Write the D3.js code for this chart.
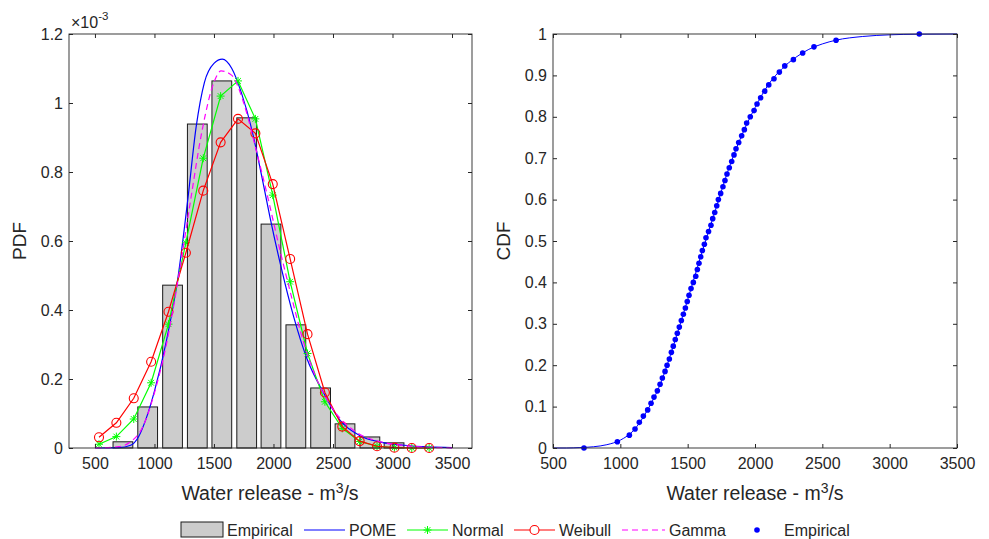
<!DOCTYPE html>
<html lang="en">
<head>
<meta charset="UTF-8">
<title>Water release PDF / CDF</title>
<script src="https://d3js.org/d3.v7.min.js"></script>
<style>
    body { margin: 0; background: #fff; }
    svg { display: block; font-family: "Liberation Sans", Arial, sans-serif; }
    .tick text { fill: #262626; font-size: 16px; }
    .tick line { stroke: #262626; }
</style>
</head>
<body>
<div id="chart"></div>
<script>
// histogram of the observed releases (bar centre, density in 1e-3)
const barX = [735, 943, 1152, 1360, 1566, 1775, 1979, 2188, 2396, 2601, 2810, 3013];
const barY = [0.018, 0.119, 0.472, 0.939, 1.064, 0.957, 0.649, 0.357, 0.174, 0.070, 0.032, 0.015];

// Normal and Weibull evaluated at 20 points
const fitX = [534, 680, 826, 972, 1118, 1264, 1410, 1556, 1702, 1848, 1994, 2140, 2286, 2432, 2578, 2724, 2870, 3016, 3162, 3308];
const normalY = [0.011, 0.033, 0.084, 0.189, 0.359, 0.595, 0.840, 1.020, 1.064, 0.954, 0.733, 0.482, 0.274, 0.134, 0.057, 0.019, 0.005, 0.001, 0.0, 0.0];
const weibullY = [0.031, 0.073, 0.144, 0.250, 0.395, 0.566, 0.746, 0.886, 0.954, 0.912, 0.765, 0.548, 0.330, 0.161, 0.062, 0.020, 0.005, 0.001, 0.0, 0.0];

// POME pdf
const pomeX = [500, 700, 800, 870, 930, 1000, 1100, 1200, 1280, 1350, 1420, 1500, 1570, 1650, 1730, 1820, 1900, 1970, 2060, 2170, 2280, 2420, 2560, 2730, 2900, 3100, 3300, 3500];
const pomeY = [0.0, 0.001, 0.008, 0.035, 0.085, 0.165, 0.31, 0.50, 0.72, 0.93, 1.06, 1.115, 1.127, 1.10, 1.03, 0.92, 0.79, 0.67, 0.53, 0.38, 0.26, 0.16, 0.08, 0.035, 0.017, 0.008, 0.003, 0.001];

// Gamma pdf
const gammaX = [500, 700, 800, 900, 1000, 1100, 1200, 1300, 1400, 1500, 1560, 1650, 1750, 1850, 1950, 2050, 2150, 2250, 2350, 2450, 2550, 2700, 2900, 3100, 3300, 3500];
const gammaY = [0.0, 0.004, 0.018, 0.06, 0.16, 0.30, 0.49, 0.71, 0.92, 1.06, 1.093, 1.08, 1.00, 0.87, 0.73, 0.58, 0.44, 0.31, 0.21, 0.14, 0.09, 0.045, 0.018, 0.007, 0.002, 0.0005];

// empirical cdf points
const cdfX = [730, 978, 1067, 1109, 1141, 1171, 1203, 1228, 1250, 1275,
              1295, 1312, 1332, 1347, 1364, 1379, 1393, 1408, 1423, 1438,
              1453, 1468, 1483, 1497, 1510, 1525, 1542, 1560, 1572, 1584,
              1597, 1609, 1624, 1636, 1655, 1673, 1686, 1701, 1716, 1728,
              1745, 1762, 1777, 1792, 1809, 1827, 1844, 1859, 1879, 1901,
              1921, 1938, 1965, 1993, 2015, 2042, 2072, 2102, 2141, 2181,
              2221, 2285, 2354, 2438, 2602, 3220];
const cdfY = [0.000, 0.015, 0.031, 0.046, 0.062, 0.077, 0.092, 0.108, 0.123, 0.138,
              0.154, 0.169, 0.185, 0.200, 0.215, 0.231, 0.246, 0.262, 0.277, 0.292,
              0.308, 0.323, 0.338, 0.354, 0.369, 0.385, 0.400, 0.415, 0.431, 0.446,
              0.462, 0.477, 0.492, 0.508, 0.523, 0.538, 0.554, 0.569, 0.585, 0.600,
              0.615, 0.631, 0.646, 0.662, 0.677, 0.692, 0.708, 0.723, 0.738, 0.754,
              0.769, 0.785, 0.800, 0.815, 0.831, 0.846, 0.862, 0.877, 0.892, 0.908,
              0.923, 0.938, 0.954, 0.969, 0.985, 1.000];

// fitted cdf line
const cdfFitX = [500, 600, 700, 800, 900, 1000, 1100, 1200, 1300, 1400, 1500, 1600, 1700, 1800, 1900, 2000, 2100, 2200, 2300, 2400, 2500, 2600, 2800, 3000, 3200, 3500];
const cdfFitY = [0.0, 0.0, 0.001, 0.003, 0.008, 0.019, 0.043, 0.091, 0.157, 0.253, 0.358, 0.466, 0.568, 0.670, 0.754, 0.822, 0.878, 0.916, 0.943, 0.963, 0.976, 0.985, 0.994, 0.998, 0.9995, 1.0];

const xTicks = [500, 1000, 1500, 2000, 2500, 3000, 3500];
const pdfTicks = [0, 0.2, 0.4, 0.6, 0.8, 1, 1.2];
const cdfTicks = [0, 0.1, 0.2, 0.3, 0.4, 0.5, 0.6, 0.7, 0.8, 0.9, 1];

const W = 989, H = 539;
const barWidth = 166;
const axisColor = "#262626";

const svg = d3.select("#chart").append("svg")
    .attr("width", W)
    .attr("height", H);

const xPdf = d3.scaleLinear().domain([282, 3668]).range([69, 472]);
const yPdf = d3.scaleLinear().domain([0, 1.2]).range([448, 34]);
const xCdf = d3.scaleLinear().domain([500, 3500]).range([553, 957]);
const yCdf = d3.scaleLinear().domain([0, 1]).range([448, 34]);

const fmt = d => String(+d.toFixed(2));

function drawAxes(x, y, yTicks) {
    const [x0, x1] = x.range();
    const [y0, y1] = y.range();
    const g = svg.append("g");
    g.append("g")
        .attr("transform", `translate(0,${y0})`)
        .call(d3.axisBottom(x).tickValues(xTicks).tickSizeInner(-4).tickSizeOuter(0).tickPadding(10).tickFormat(d3.format("d")));
    g.append("g")
        .attr("transform", `translate(0,${y1})`)
        .call(d3.axisTop(x).tickValues(xTicks).tickSizeInner(-4).tickSizeOuter(0).tickFormat(""));
    g.append("g")
        .attr("transform", `translate(${x0},0)`)
        .call(d3.axisLeft(y).tickValues(yTicks).tickSizeInner(-4).tickSizeOuter(0).tickPadding(6).tickFormat(fmt));
    g.append("g")
        .attr("transform", `translate(${x1},0)`)
        .call(d3.axisRight(y).tickValues(yTicks).tickSizeInner(-4).tickSizeOuter(0).tickFormat(""));
    g.selectAll(".domain").remove();
    g.append("rect")
        .attr("x", x0).attr("y", y1)
        .attr("width", x1 - x0).attr("height", y0 - y1)
        .attr("fill", "none")
        .attr("stroke", axisColor)
        .attr("stroke-width", 0.9);
}

function xLabel(cx) {
    const t = svg.append("text")
        .attr("x", cx).attr("y", 500)
        .attr("text-anchor", "middle")
        .attr("font-size", 19.5)
        .attr("fill", axisColor);
    t.append("tspan").text("Water release - m");
    t.append("tspan").attr("dy", -7).attr("font-size", 14).text("3");
    t.append("tspan").attr("dy", 7).text("/s");
}

function yLabel(cx, label) {
    svg.append("text")
        .attr("transform", `translate(${cx},241) rotate(-90)`)
        .attr("text-anchor", "middle")
        .attr("font-size", 19)
        .attr("fill", axisColor)
        .text(label);
}

function star(sel, color) {
    sel.append("path")
        .attr("d", "M-4,0H4M0,-4V4M-2.9,-2.9L2.9,2.9M-2.9,2.9L2.9,-2.9")
        .attr("stroke", color)
        .attr("stroke-width", 1)
        .attr("fill", "none");
}

// ---------------- left panel: PDF ----------------
const left = svg.append("g");

left.selectAll("rect.bar")
    .data(barX.map((x, i) => ({ x, y: barY[i] })))
    .join("rect")
    .attr("class", "bar")
    .attr("x", d => xPdf(d.x - barWidth / 2))
    .attr("width", d => xPdf(d.x + barWidth / 2) - xPdf(d.x - barWidth / 2))
    .attr("y", d => yPdf(d.y))
    .attr("height", d => yPdf(0) - yPdf(d.y))
    .attr("fill", "#cccccc")
    .attr("stroke", "#1a1a1a")
    .attr("stroke-width", 1);

const smooth = d3.line().curve(d3.curveMonotoneX);
const straight = d3.line();

left.append("path")
    .attr("d", smooth(pomeX.map((x, i) => [xPdf(x), yPdf(pomeY[i])])))
    .attr("fill", "none")
    .attr("stroke", "#0000ff")
    .attr("stroke-width", 1.2);

const normalPts = fitX.map((x, i) => [xPdf(x), yPdf(normalY[i])]);
left.append("path")
    .attr("d", straight(normalPts))
    .attr("fill", "none")
    .attr("stroke", "#00ff00")
    .attr("stroke-width", 1.2);
left.selectAll("g.nstar")
    .data(normalPts)
    .join("g")
    .attr("class", "nstar")
    .attr("transform", d => `translate(${d[0]},${d[1]})`)
    .call(star, "#00ff00");

const weibullPts = fitX.map((x, i) => [xPdf(x), yPdf(weibullY[i])]);
left.append("path")
    .attr("d", straight(weibullPts))
    .attr("fill", "none")
    .attr("stroke", "#ff0000")
    .attr("stroke-width", 1.2);
left.selectAll("circle.wb")
    .data(weibullPts)
    .join("circle")
    .attr("class", "wb")
    .attr("cx", d => d[0])
    .attr("cy", d => d[1])
    .attr("r", 4.5)
    .attr("fill", "none")
    .attr("stroke", "#ff0000")
    .attr("stroke-width", 1.1);

left.append("path")
    .attr("d", smooth(gammaX.map((x, i) => [xPdf(x), yPdf(gammaY[i])])))
    .attr("fill", "none")
    .attr("stroke", "#ff00ff")
    .attr("stroke-width", 1.2)
    .attr("stroke-dasharray", "6,4");

drawAxes(xPdf, yPdf, pdfTicks);
xLabel(270);
yLabel(26, "PDF");

// exponent marker
const ex = svg.append("text")
    .attr("x", 71).attr("y", 28)
    .attr("font-size", 16)
    .attr("fill", axisColor);
ex.append("tspan").text("\u00d710");
ex.append("tspan").attr("dy", -8).attr("font-size", 11.5).text("-3");

// ---------------- right panel: CDF ----------------
const right = svg.append("g");

right.append("path")
    .attr("d", smooth(cdfFitX.map((x, i) => [xCdf(x), yCdf(cdfFitY[i])])))
    .attr("fill", "none")
    .attr("stroke", "#0000ff")
    .attr("stroke-width", 1);

right.selectAll("circle.emp")
    .data(cdfX.map((x, i) => [xCdf(x), yCdf(cdfY[i])]))
    .join("circle")
    .attr("class", "emp")
    .attr("cx", d => d[0])
    .attr("cy", d => d[1])
    .attr("r", 2.8)
    .attr("fill", "#0000ff");

drawAxes(xCdf, yCdf, cdfTicks);
xLabel(755);
yLabel(510, "CDF");

// ---------------- legend ----------------
const legY = 530;
const leg = svg.append("g").attr("font-size", 16).attr("fill", axisColor);

leg.append("rect")
    .attr("x", 181).attr("y", legY - 8)
    .attr("width", 42).attr("height", 15)
    .attr("fill", "#cccccc").attr("stroke", "#1a1a1a");
leg.append("text").attr("x", 227).attr("y", legY + 6).text("Empirical");

leg.append("line").attr("x1", 304).attr("x2", 345).attr("y1", legY).attr("y2", legY)
    .attr("stroke", "#0000ff").attr("stroke-width", 1.2);
leg.append("text").attr("x", 349).attr("y", legY + 6).text("POME");

leg.append("line").attr("x1", 407).attr("x2", 448).attr("y1", legY).attr("y2", legY)
    .attr("stroke", "#00ff00").attr("stroke-width", 1.2);
leg.append("g").attr("transform", `translate(427.5,${legY})`).call(star, "#00ff00");
leg.append("text").attr("x", 452).attr("y", legY + 6).text("Normal");

leg.append("line").attr("x1", 514).attr("x2", 555).attr("y1", legY).attr("y2", legY)
    .attr("stroke", "#ff0000").attr("stroke-width", 1.2);
leg.append("circle").attr("cx", 534.5).attr("cy", legY).attr("r", 4.5)
    .attr("fill", "#fff").attr("stroke", "#ff0000").attr("stroke-width", 1.1);
leg.append("text").attr("x", 559).attr("y", legY + 6).text("Weibull");

leg.append("line").attr("x1", 622).attr("x2", 665).attr("y1", legY).attr("y2", legY)
    .attr("stroke", "#ff00ff").attr("stroke-width", 1.2).attr("stroke-dasharray", "6,4");
leg.append("text").attr("x", 669).attr("y", legY + 6).text("Gamma");

leg.append("circle").attr("cx", 757).attr("cy", legY).attr("r", 2.8).attr("fill", "#0000ff");
leg.append("text").attr("x", 784).attr("y", legY + 6).text("Empirical");
</script>
</body>
</html>
